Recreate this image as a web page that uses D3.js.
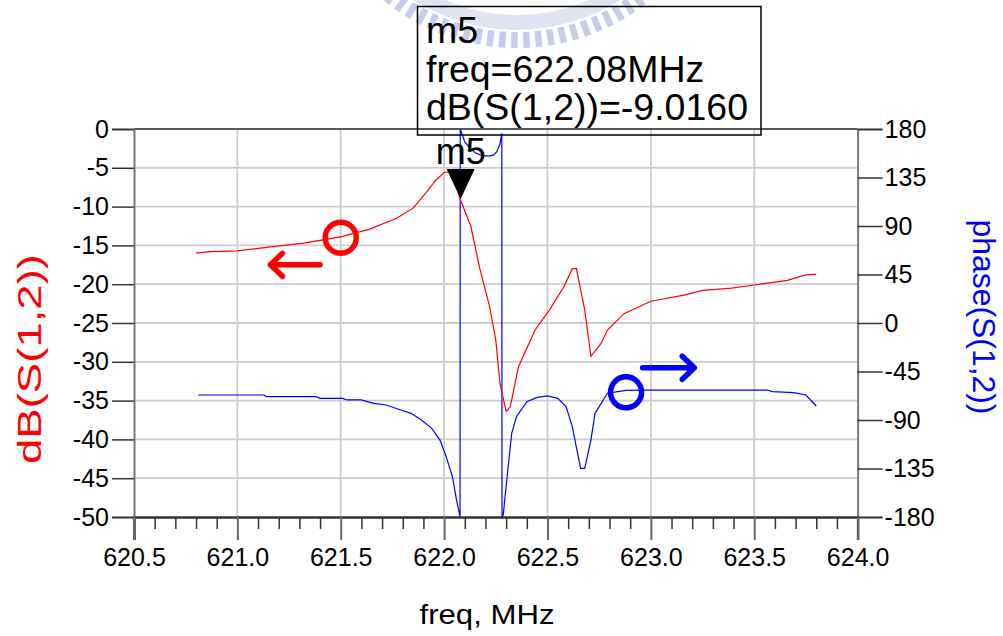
<!DOCTYPE html>
<html>
<head>
<meta charset="utf-8">
<script src="https://cdn.jsdelivr.net/npm/d3@7"></script>
<style>
  html, body { margin: 0; padding: 0; background: #fff; }
  svg { display: block; font-family: "Liberation Sans", Arial, sans-serif; }
</style>
</head>
<body>
<div id="chart"></div>
<script>
// dB(S(1,2)) trace
const freqDB = [620.80, 620.87, 621.00, 621.16, 621.32, 621.50, 621.64, 621.77, 621.85, 621.91,
  621.96, 622.00, 622.04, 622.077, 622.13, 622.17, 622.22, 622.25, 622.27, 622.30,
  622.32, 622.36, 622.44, 622.51, 622.58, 622.62, 622.64, 622.68, 622.71, 622.76,
  622.79, 622.87, 623.00, 623.16, 623.25, 623.39, 623.50, 623.66, 623.75, 623.80];
const dbVals = [-16.0, -15.8, -15.7, -15.2, -14.7, -13.9, -12.9, -11.5, -10.2, -8.3,
  -6.6, -5.6, -5.5, -9.0, -12.6, -17.7, -22.9, -27.2, -32.8, -36.4,
  -35.8, -30.6, -25.9, -23.3, -20.3, -18.0, -18.0, -23.3, -29.3, -27.6,
  -25.9, -23.8, -22.2, -21.4, -20.8, -20.5, -20.1, -19.5, -18.8, -18.7];

// phase(S(1,2)) trace
const freqPh = [620.81, 621.13, 621.14, 621.38, 621.40, 621.51, 621.53, 621.60, 621.66, 621.72,
  621.79, 621.84, 621.89, 621.94, 621.98, 622.01, 622.04, 622.06, 622.077, 622.078,
  622.10, 622.126, 622.15, 622.174, 622.20, 622.222, 622.24, 622.255, 622.27, 622.279, 622.280, 622.286, 622.308, 622.327, 622.35,
  622.40, 622.45, 622.50, 622.55, 622.59, 622.62, 622.66, 622.68, 622.71, 622.73,
  622.79, 622.84, 622.88, 622.96, 623.56, 623.59, 623.69, 623.75, 623.80];
const phVals = [-66.8, -66.8, -68.4, -68.4, -69.9, -69.9, -71.4, -71.4, -74.5, -76.1,
  -80.7, -83.8, -90.0, -97.7, -108.6, -124.0, -142.6, -164.2, -179.7, 180,
  168, 162, 158, 156, 155, 155, 156, 159, 166, 176, -180, -178, -136.4, -102.3, -86.9,
  -73.0, -69.0, -67.7, -69.9, -77.6, -96.2, -134.8, -134.8, -108.6, -83.8,
  -65.2, -63.7, -62.5, -62.2, -62.2, -63.7, -64.6, -66.8, -77.0];

const xTicks = [620.5, 621.0, 621.5, 622.0, 622.5, 623.0, 623.5, 624.0];
const dbTicks = [0, -5, -10, -15, -20, -25, -30, -35, -40, -45, -50];
const phTicks = [180, 135, 90, 45, 0, -45, -90, -135, -180];

const markerName = "m5";
const markerFreq = 622.08;
const markerDB = -9.0160;

const width = 1003;
const height = 636;
const plotLeft = 134, plotRight = 857.6, plotTop = 129, plotBottom = 517;

const x = d3.scaleLinear().domain([620.5, 624.0]).range([plotLeft, plotRight]);
const yL = d3.scaleLinear().domain([-50, 0]).range([plotBottom, plotTop]);
const yR = d3.scaleLinear().domain([-180, 180]).range([plotBottom, plotTop]);

const svg = d3.select("#chart").append("svg")
    .attr("width", width)
    .attr("height", height);

// faint logo watermark at the top
const wm = svg.append("g").attr("transform", "translate(517,-163)").attr("fill", "#b3bbe2");
wm.append("path")
    .attr("d", d3.arc().innerRadius(178).outerRadius(193).startAngle(Math.PI - 0.75).endAngle(Math.PI + 0.75))
    .attr("opacity", 0.4);
d3.range(-40, 41, 3.4).forEach(a => {
    wm.append("rect")
        .attr("x", -3).attr("y", 195).attr("width", 6.5).attr("height", 16)
        .attr("transform", `rotate(${a})`)
        .attr("opacity", 0.75);
});

// grid
svg.append("g").selectAll("line")
    .data(xTicks.slice(1, -1))
    .join("line")
    .attr("x1", d => x(d)).attr("x2", d => x(d))
    .attr("y1", plotTop).attr("y2", plotBottom)
    .attr("stroke", "#cdcdcd").attr("stroke-width", 1.8);
svg.append("g").selectAll("line")
    .data(dbTicks.slice(1, -1))
    .join("line")
    .attr("x1", plotLeft).attr("x2", plotRight)
    .attr("y1", d => yL(d)).attr("y2", d => yL(d))
    .attr("stroke", "#cdcdcd").attr("stroke-width", 1.8);

// frame
svg.append("line").attr("x1", plotLeft).attr("x2", plotRight).attr("y1", plotTop).attr("y2", plotTop)
    .attr("stroke", "#222").attr("stroke-width", 1.5);

// plain hyphen for negatives, like the original
const fmtInt = d => String(d);

// left axis
const axL = svg.append("g").attr("transform", `translate(${plotLeft},0)`)
    .call(d3.axisLeft(yL).tickValues(dbTicks).tickSize(22).tickPadding(3).tickFormat(fmtInt));
axL.select(".domain").attr("stroke", "#777").attr("stroke-width", 2);
axL.selectAll(".tick line").attr("stroke", "#333").attr("stroke-width", 1.5);
axL.selectAll(".tick text").attr("font-size", 25).attr("fill", "#000")
    .attr("font-family", "Liberation Sans, Arial, sans-serif");

// right axis
const axR = svg.append("g").attr("transform", `translate(${plotRight},0)`)
    .call(d3.axisRight(yR).tickValues(phTicks).tickSize(25).tickPadding(2).tickFormat(fmtInt));
axR.select(".domain").attr("stroke", "#777").attr("stroke-width", 2);
axR.selectAll(".tick line").attr("stroke", "#333").attr("stroke-width", 1.5);
axR.selectAll(".tick text").attr("font-size", 25).attr("fill", "#000")
    .attr("font-family", "Liberation Sans, Arial, sans-serif");

// bottom axis: minor ticks then major ticks with labels
const axMinor = svg.append("g").attr("transform", `translate(0,${plotBottom})`)
    .call(d3.axisBottom(x).tickValues(d3.range(620.6, 624.0, 0.1).filter(v => Math.abs(v * 2 - Math.round(v * 2)) > 0.01))
        .tickSize(12).tickFormat(""));
axMinor.select(".domain").remove();
axMinor.selectAll(".tick line").attr("stroke", "#333").attr("stroke-width", 1.5);

const axB = svg.append("g").attr("transform", `translate(0,${plotBottom})`)
    .call(d3.axisBottom(x).tickValues(xTicks).tickSize(23).tickFormat(d3.format(".1f")));
axB.select(".domain").attr("stroke", "#333").attr("stroke-width", 2.5);
axB.selectAll(".tick line").attr("stroke", "#666").attr("stroke-width", 2);
axB.selectAll(".tick text").attr("font-size", 25).attr("fill", "#000")
    .attr("y", 49).attr("dy", 0)
    .attr("font-family", "Liberation Sans, Arial, sans-serif");

// traces
const lineDB = d3.line().x(d => x(d[0])).y(d => yL(d[1]));
const linePh = d3.line().x(d => x(d[0])).y(d => yR(d[1]));

svg.append("path")
    .attr("d", linePh(d3.zip(freqPh, phVals)))
    .attr("fill", "none").attr("stroke", "#0000ff").attr("stroke-width", 1.2);
svg.append("path")
    .attr("d", lineDB(d3.zip(freqDB, dbVals)))
    .attr("fill", "none").attr("stroke", "#ff0000").attr("stroke-width", 1.2);

// marker triangle and name
const mx = x(markerFreq), my = yL(markerDB);
svg.append("path")
    .attr("d", `M${mx - 14},${my - 30}L${mx + 14},${my - 30}L${mx},${my}Z`)
    .attr("fill", "#000");
svg.append("text")
    .attr("x", mx).attr("y", my - 35)
    .attr("text-anchor", "middle")
    .attr("font-size", 36)
    .text(markerName);

// marker readout box
const box = svg.append("g");
box.append("rect")
    .attr("x", 417.5).attr("y", 6.5).attr("width", 343.5).attr("height", 128.5)
    .attr("fill", "none").attr("stroke", "#000").attr("stroke-width", 1.5);
const readout = [markerName, `freq=${markerFreq.toFixed(2)}MHz`, `dB(S(1,2))=${markerDB.toFixed(4)}`];
box.selectAll("text")
    .data(readout)
    .join("text")
    .attr("x", 426)
    .attr("y", (d, i) => 43 + i * 38.5)
    .attr("font-size", 37.5)
    .text(d => d);

// hand-drawn style circle + arrow annotations
const redCircle = [621.5, -14.0];
const redArrow = [[621.40, -17.5], [621.16, -17.5]];
const blueCircle = [622.88, -64.3];
const blueArrow = [[622.96, -41.5], [623.21, -41.5]];

svg.append("circle")
    .attr("cx", x(redCircle[0])).attr("cy", yL(redCircle[1])).attr("r", 15.5)
    .attr("fill", "none").attr("stroke", "#ff0000").attr("stroke-width", 5.5);
svg.append("circle")
    .attr("cx", x(blueCircle[0])).attr("cy", yR(blueCircle[1])).attr("r", 15.5)
    .attr("fill", "none").attr("stroke", "#0000ff").attr("stroke-width", 5.5);

function arrow(p0, p1, ys, color) {
    const x0 = x(p0[0]), y0 = ys(p0[1]), x1 = x(p1[0]), y1 = ys(p1[1]);
    const dir = Math.sign(x1 - x0);
    svg.append("path")
        .attr("d", `M${x0},${y0}L${x1},${y1}M${x1 - dir * 12},${y1 - 11.5}L${x1},${y1}L${x1 - dir * 12},${y1 + 11.5}`)
        .attr("fill", "none").attr("stroke", color).attr("stroke-width", 5.5)
        .attr("stroke-linecap", "round").attr("stroke-linejoin", "round");
}
arrow(redArrow[0], redArrow[1], yL, "#ff0000");
arrow(blueArrow[0], blueArrow[1], yR, "#0000ff");

// axis titles
svg.append("text")
    .attr("transform", "translate(41,359) rotate(-90)")
    .attr("text-anchor", "middle")
    .attr("font-size", 34)
    .attr("fill", "#ff0000")
    .attr("textLength", 210).attr("lengthAdjust", "spacingAndGlyphs")
    .text("dB(S(1,2))");
svg.append("text")
    .attr("transform", "translate(973,317) rotate(90)")
    .attr("text-anchor", "middle")
    .attr("font-size", 31)
    .attr("fill", "#0000ff")
    .attr("textLength", 195).attr("lengthAdjust", "spacingAndGlyphs")
    .text("phase(S(1,2))");
svg.append("text")
    .attr("x", 487).attr("y", 624)
    .attr("text-anchor", "middle")
    .attr("font-size", 28)
    .attr("textLength", 135).attr("lengthAdjust", "spacingAndGlyphs")
    .text("freq, MHz");
</script>
</body>
</html>
